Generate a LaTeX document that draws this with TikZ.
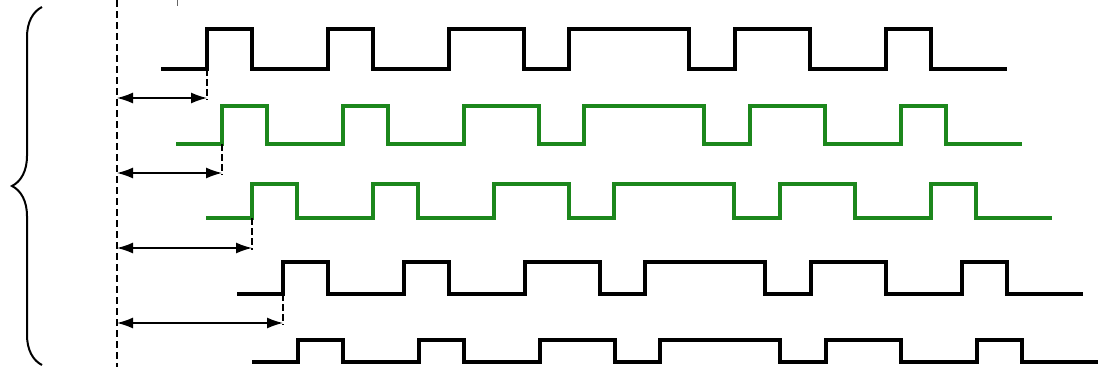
\documentclass[tikz,border=0pt]{standalone}
\usetikzlibrary{arrows.meta,decorations.pathreplacing}
\definecolor{waveGreen}{RGB}{28,135,28}

\begin{document}
\begin{tikzpicture}[x=1pt,y=-1pt]
                                \tikzstyle{wave}=[line width=3.4pt,line join=miter]
                                \tikzstyle{drop}=[dash pattern=on 7pt off 3pt,line width=1.4pt]
                                \tikzstyle{ref}=[dash pattern=on 7pt off 4pt,line width=1.3pt]
                                \tikzstyle{delay}=[{Latex[length=16pt,width=11pt]}-{Latex[length=16pt,width=11pt]},line width=1.4pt]
                                \useasboundingbox (0,0) rectangle (1101,367);
                                {
                                    % reference line and brace
                                    \coordinate (reftop) at (117,0);
                                    \coordinate (refbot) at (117,367);
                                    \draw[ref] (reftop) -- (refbot);
                                    \coordinate (tick) at (177,0);
                                    \coordinate (tickend) at (177,6);
                                    \draw[line width=0.8pt,black!60] (tick) -- (tickend);
                                    \coordinate (brbot) at (42,365);
                                    \coordinate (brtop) at (42,7);
                                    \draw[line width=2pt,decorate,decoration={brace,amplitude=30pt}] (brbot) -- (brtop);

                                    % signals
                                    \foreach \ox/\yl/\yh/\col in {207/69/29/black,222/144/106/waveGreen,252/218/184/waveGreen,283/294/262/black,298/362/340/black}
                                        \draw[wave,draw=\col,xshift=\ox pt] (-46,\yl) -| (0,\yh) -| (45,\yl) -| (121,\yh) -| (166,\yl) -| (242,\yh) -| (317,\yl) -| (362,\yh) -| (482,\yl) -| (528,\yh) -| (603,\yl) -| (679,\yh) -| (724,\yl) -- (800,\yl);

                                    % delays
                                    \coordinate (e1) at (207,69);
                                    \coordinate (e2) at (222,144);
                                    \coordinate (e3) at (252,218);
                                    \coordinate (e4) at (283,294);
                                    \coordinate (t1) at (207,100);
                                    \coordinate (t2) at (222,175);
                                    \coordinate (t3) at (252,250);
                                    \coordinate (t4) at (283,325);
                                    \coordinate (a1) at (207,98);
                                    \coordinate (a2) at (222,173);
                                    \coordinate (a3) at (252,248);
                                    \coordinate (a4) at (283,323);
                                    \coordinate (l1) at (117,98);
                                    \coordinate (l2) at (117,173);
                                    \coordinate (l3) at (117,248);
                                    \coordinate (l4) at (117,323);
                                    \path[drop]
                                        (e1) edge (t1)
                                        (e2) edge (t2)
                                        (e3) edge (t3)
                                        (e4) edge (t4);
                                    \path[delay]
                                        (l1) edge (a1)
                                        (l2) edge (a2)
                                        (l3) edge (a3)
                                        (l4) edge (a4);
                                }
                            \end{tikzpicture}
\end{document}
